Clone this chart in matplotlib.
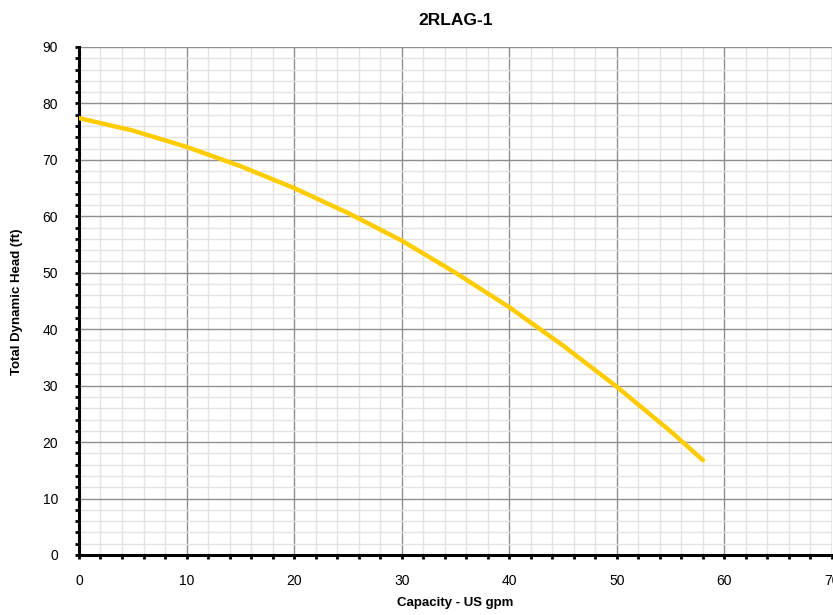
import numpy as np
import matplotlib
matplotlib.use("Agg")
import matplotlib.pyplot as plt
from matplotlib.ticker import MultipleLocator

plt.rcParams['font.family'] = ['Liberation Sans', 'DejaVu Sans']

# pump curve
flow = [0, 5, 10, 15, 20, 25, 30, 35, 40, 45, 50, 55, 58]
head = [77.4, 75.2, 72.3, 68.9, 65.0, 60.6, 55.7, 50.0, 43.9, 37.1, 29.8, 21.9, 16.8]

fig = plt.figure(figsize=(8.33, 6.15), dpi=100)
ax = fig.add_axes([0.0948, 0.0976, 0.904, 0.826])

ax.plot(flow, head, color='#FFCC00', lw=3.2, solid_capstyle='round',
        solid_joinstyle='round', zorder=3)

ax.set_xlim(0, 70)
ax.set_ylim(0, 90)
ax.xaxis.set_major_locator(MultipleLocator(10))
ax.yaxis.set_major_locator(MultipleLocator(10))
ax.xaxis.set_minor_locator(MultipleLocator(2))
ax.yaxis.set_minor_locator(MultipleLocator(2))
ax.grid(which='major', color='#8f8f8f', lw=1.0)
ax.grid(which='minor', color='#e3e3e3', lw=1.0)
ax.set_axisbelow(True)

for s in ['top', 'right']:
    ax.spines[s].set_visible(False)
for s in ['left', 'bottom']:
    ax.spines[s].set_linewidth(2.2)

ax.tick_params(which='major', length=3, width=2, labelsize=10)
ax.tick_params(axis='x', which='major', pad=11)
ax.tick_params(axis='y', which='major', pad=12)
ax.tick_params(which='minor', length=3, width=2)

fig.text(0.547, 0.967, '2RLAG-1', fontsize=12.5, fontweight='bold', ha='center', va='center')
fig.text(0.547, 0.019, 'Capacity - US gpm', fontsize=9.5, fontweight='bold', ha='center', va='center')
fig.text(0.021, 0.51, 'Total Dynamic Head (ft)', fontsize=9.5, fontweight='bold',
         ha='center', va='center', rotation=90)

fig.savefig('out.png', dpi=100)
